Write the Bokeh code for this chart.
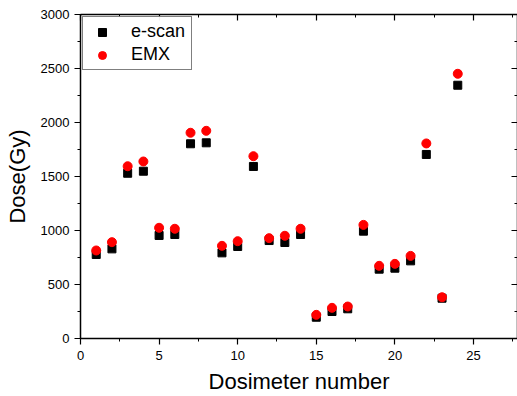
from bokeh.plotting import figure
from bokeh.models import (LinearAxis, Range1d, SingleIntervalTicker, Legend, LegendItem,
                          CustomJSTickFormatter)
from bokeh.embed import file_html
from bokeh.resources import INLINE

dosimeter = [1, 2, 3, 4, 5, 6, 7, 8, 9, 10, 11, 12, 13, 14, 15, 16, 17, 18, 19, 20, 21, 22, 23, 24]
escan = [778, 830, 1530, 1549, 954, 963, 1803, 1812, 793, 852, 1593, 907, 889, 963,
         197, 250, 275, 994, 642, 651, 719, 1704, 373, 2345]
emx = [815, 892, 1595, 1639, 1025, 1016, 1905, 1923, 858, 901, 1688, 929, 951, 1016,
       219, 284, 296, 1052, 673, 691, 765, 1806, 382, 2451]

FONT = "Liberation Sans"

p = figure(width=517, height=396, output_backend="svg", toolbar_location=None,
           x_range=Range1d(0, 27.8), y_range=Range1d(0, 3000),
           min_border_top=14, min_border_right=0, min_border_left=80, min_border_bottom=0)
p.outline_line_color = None
p.xgrid.visible = False
p.ygrid.visible = False

def style(ax, labels=True, inward=False):
    ax.axis_line_color = "black"
    ax.axis_line_width = 1.5
    ax.major_tick_line_color = "black"
    ax.minor_tick_line_color = "black"
    ax.major_tick_line_width = 1.2
    ax.minor_tick_line_width = 1
    if inward:
        ax.major_tick_in = 6
        ax.major_tick_out = 0
        ax.minor_tick_in = 3
        ax.minor_tick_out = 0
    else:
        ax.major_tick_in = 0
        ax.major_tick_out = 6
        ax.minor_tick_in = 0
        ax.minor_tick_out = 3
    if labels:
        ax.major_label_text_font = FONT
        ax.major_label_text_font_size = "13px"
        ax.major_label_text_color = "black"
    else:
        ax.formatter = CustomJSTickFormatter(code="return ''")
        ax.major_label_standoff = 0

p.xaxis.ticker = SingleIntervalTicker(interval=5, num_minor_ticks=2)
p.yaxis.ticker = SingleIntervalTicker(interval=500, num_minor_ticks=2)
style(p.xaxis[0])
style(p.yaxis[0])
p.xaxis.major_label_standoff = 6
p.yaxis.major_label_standoff = 5
p.xaxis.axis_label = "Dosimeter number"
p.yaxis.axis_label = "Dose(Gy)"
for ax in (p.xaxis[0], p.yaxis[0]):
    ax.axis_label_text_font = FONT
    ax.axis_label_text_font_style = "normal"
    ax.axis_label_text_font_size = "22px"
    ax.axis_label_text_color = "black"
p.xaxis.axis_label_standoff = 6
p.yaxis.axis_label_standoff = 8

top = LinearAxis(ticker=SingleIntervalTicker(interval=5, num_minor_ticks=2))
style(top, labels=False, inward=True)
p.add_layout(top, "above")
right = LinearAxis(ticker=SingleIntervalTicker(interval=500, num_minor_ticks=2))
style(right, labels=False, inward=True)
p.add_layout(right, "right")

r1 = p.scatter(dosimeter, escan, marker="square", size=8, fill_color="black", line_color="black")
r2 = p.scatter(dosimeter, emx, marker="circle", size=9, fill_color="red", line_color="red")

legend = Legend(items=[LegendItem(label="e-scan", renderers=[r1]),
                       LegendItem(label="EMX", renderers=[r2])],
                location="top_left")
legend.label_text_font = FONT
legend.label_text_font_size = "18px"
legend.label_text_color = "black"
legend.border_line_color = "black"
legend.border_line_width = 1
legend.margin = 2
legend.padding = 4
legend.spacing = 2
legend.glyph_width = 30
legend.glyph_height = 20
legend.label_standoff = 14
legend.label_width = 56
p.add_layout(legend)

open("out.html", "w").write(file_html(p, INLINE))
